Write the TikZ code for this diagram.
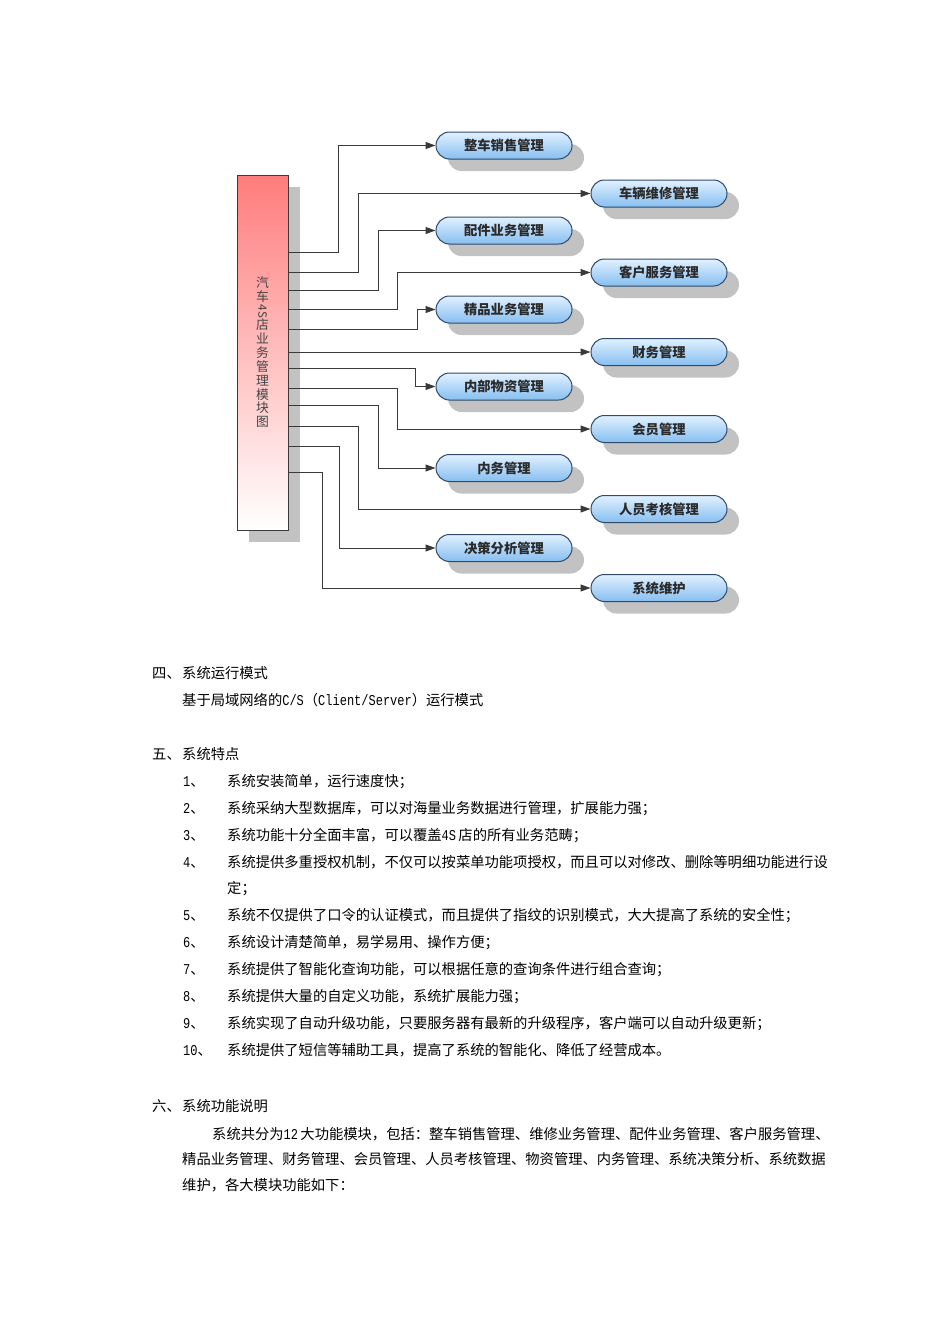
\documentclass[tikz,border=0pt]{standalone}
\usepackage{fontspec}
\setmainfont{Noto Sans CJK SC}
\newfontfamily\monofont[FakeStretch=0.8]{Liberation Mono}
\usetikzlibrary{arrows.meta,shadows}
\definecolor{linec}{HTML}{3A3A3A}
\definecolor{modborder}{HTML}{2F4A6A}
\definecolor{modtop}{HTML}{E2F1FF}
\definecolor{modbot}{HTML}{86BEF0}
\definecolor{modtext}{HTML}{2A2A2A}
\definecolor{shadowc}{HTML}{C2C2C2}
\definecolor{boxtop}{HTML}{FF7C7C}
\definecolor{boxtext}{HTML}{444444}
\newcommand\latx[1]{{\monofont\fontsize{15}{17}\selectfont #1}}
\newcommand\rotfs{\raisebox{0.85em}[0.88em][0.12em]{\rotatebox{-90}{\fontsize{11.5}{12}\selectfont 4S}}}
\begin{document}
\begin{tikzpicture}[x=1pt,y=-1pt,
  conn/.style={draw=linec, line width=1pt, -{Triangle[length=10pt,width=7pt]}},
  mod/.style={rectangle, rounded corners=13.5pt, minimum width=136pt, minimum height=27pt,
    draw=modborder, line width=1pt, top color=modtop, bottom color=modbot,
    font=\fontsize{13.3}{14}\selectfont\bfseries, text=modtext, inner sep=0pt,
    drop shadow={shadow xshift=12pt, shadow yshift=-12pt, fill=shadowc, opacity=1}},
  mainbox/.style={rectangle, minimum width=51pt, minimum height=355pt, draw=linec, line width=1pt,
    top color=boxtop, bottom color=white, inner sep=0pt, align=center,
    font=\fontsize{12.8}{13.9}\selectfont, text=boxtext,
    drop shadow={shadow xshift=12pt, shadow yshift=-12pt, fill=shadowc, opacity=1}},
  txt/.style={anchor=base west, inner sep=0pt, font=\fontsize{14.3}{17}\selectfont, text=black}]
\useasboundingbox (0,0) rectangle (950,1344);
\fill[white] (0,0) rectangle (950,1344);

% main box
\node[mainbox] (box) at (262.5,352.5) {汽\\车\\\rotfs\\店\\业\\务\\管\\理\\模\\块\\图};

% modules
\node[mod] (n1) at (504,145.5) {整车销售管理};
\node[mod] (n2) at (659,193.5) {车辆维修管理};
\node[mod] (n3) at (504,230.5) {配件业务管理};
\node[mod] (n4) at (659,272.5) {客户服务管理};
\node[mod] (n5) at (504,309.5) {精品业务管理};
\node[mod] (n6) at (659,352) {财务管理};
\node[mod] (n7) at (504,386.5) {内部物资管理};
\node[mod] (n8) at (659,429) {会员管理};
\node[mod] (n9) at (504,468) {内务管理};
\node[mod] (n10) at (659,509) {人员考核管理};
\node[mod] (n11) at (504,548) {决策分析管理};
\node[mod] (n12) at (659,588) {系统维护};

% start points on the box edge
\coordinate (o1) at (288,252);
\coordinate (o2) at (288,272);
\coordinate (o3) at (288,290);
\coordinate (o4) at (288,309);
\coordinate (o5) at (288,329);
\coordinate (o6) at (288,352);
\coordinate (o7) at (288,368);
\coordinate (o8) at (288,388);
\coordinate (o9) at (288,405);
\coordinate (o10) at (288,426);
\coordinate (o11) at (288,446);
\coordinate (o12) at (288,472);

\draw[conn] (o1) -- ++(50,0) |- (n1);
\draw[conn] (o2) -- ++(70,0) |- (n2);
\draw[conn] (o3) -- ++(90,0) |- (n3);
\draw[conn] (o4) -- ++(109,0) |- (n4);
\draw[conn] (o5) -- ++(129,0) |- (n5);
\draw[conn] (o6) -- (n6);
\draw[conn] (o7) -- ++(127,0) |- (n7);
\draw[conn] (o8) -- ++(109,0) |- (n8);
\draw[conn] (o9) -- ++(90,0) |- (n9);
\draw[conn] (o10) -- ++(70,0) |- (n10);
\draw[conn] (o11) -- ++(51,0) |- (n11);
\draw[conn] (o12) -- ++(34,0) |- (n12);

% text
\node[txt] (h4n) at (152,678.5) {四、};
\node[txt] (h4) at (182,678.5) {系统运行模式};
\node[txt] (p4) at (182,705.5) {基于局域网络的\latx{C/S}（\latx{Client/Server}）运行模式};

\node[txt] (h5n) at (152,759.5) {五、};
\node[txt] (h5) at (182,759.5) {系统特点};

\node[txt] (i1n) at (183,786.5) {\latx{1}、};
\node[txt] (i1) at (227,786.5) {系统安装简单，运行速度快；};
\node[txt] (i2n) at (183,813.5) {\latx{2}、};
\node[txt] (i2) at (227,813.5) {系统采纳大型数据库，可以对海量业务数据进行管理，扩展能力强；};
\node[txt] (i3n) at (183,840.5) {\latx{3}、};
\node[txt] (i3) at (227,840.5) {系统功能十分全面丰富，可以覆盖\latx{4S}\,店的所有业务范畴；};
\node[txt] (i4n) at (183,867.5) {\latx{4}、};
\node[txt] (i4) at (227,867.5) {系统提供多重授权机制，不仅可以按菜单功能项授权，而且可以对修改、删除等明细功能进行设};
\node[txt] (i4b) at (227,893.5) {定；};
\node[txt] (i5n) at (183,920.5) {\latx{5}、};
\node[txt] (i5) at (227,920.5) {系统不仅提供了口令的认证模式，而且提供了指纹的识别模式，大大提高了系统的安全性；};
\node[txt] (i6n) at (183,947.5) {\latx{6}、};
\node[txt] (i6) at (227,947.5) {系统设计清楚简单，易学易用、操作方便；};
\node[txt] (i7n) at (183,974.5) {\latx{7}、};
\node[txt] (i7) at (227,974.5) {系统提供了智能化查询功能，可以根据任意的查询条件进行组合查询；};
\node[txt] (i8n) at (183,1001.5) {\latx{8}、};
\node[txt] (i8) at (227,1001.5) {系统提供大量的自定义功能，系统扩展能力强；};
\node[txt] (i9n) at (183,1028.5) {\latx{9}、};
\node[txt] (i9) at (227,1028.5) {系统实现了自动升级功能，只要服务器有最新的升级程序，客户端可以自动升级更新；};
\node[txt] (i10n) at (183,1055.5) {\latx{10}、};
\node[txt] (i10) at (227,1055.5) {系统提供了短信等辅助工具，提高了系统的智能化、降低了经营成本。};

\node[txt] (h6n) at (152,1111.5) {六、};
\node[txt] (h6) at (182,1111.5) {系统功能说明};
\node[txt] (p6a) at (212,1139.5) {系统共分为\latx{12}\,大功能模块，包括：整车销售管理、维修业务管理、配件业务管理、客户服务管理、};
\node[txt] (p6b) at (182,1164.5) {精品业务管理、财务管理、会员管理、人员考核管理、物资管理、内务管理、系统决策分析、系统数据};
\node[txt] (p6c) at (182,1190.5) {维护，各大模块功能如下：};
\end{tikzpicture}
\end{document}
